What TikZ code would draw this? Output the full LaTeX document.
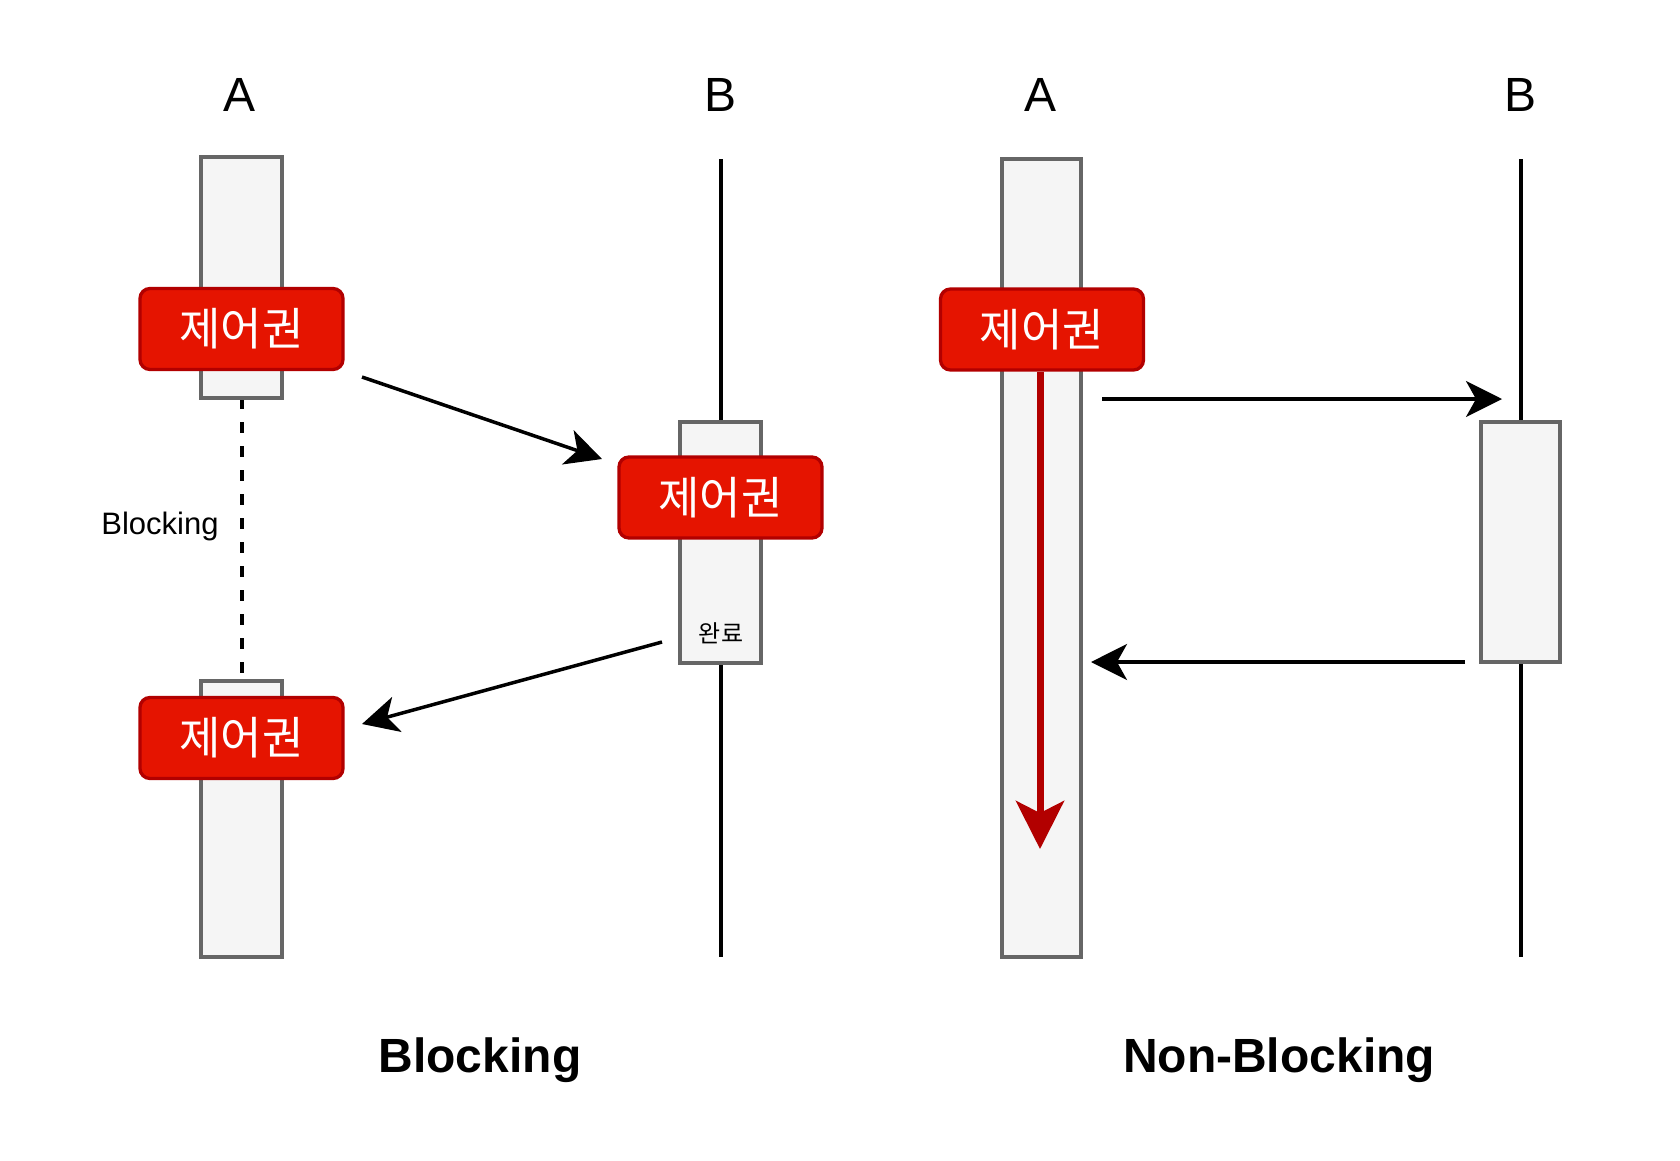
\documentclass[tikz,border=0pt]{standalone}
\usepackage{fontspec}
\setmainfont{Liberation Sans}
\newfontfamily\krfont{Noto Sans CJK KR}
\usetikzlibrary{arrows.meta}
\definecolor{boxfill}{HTML}{F5F5F5}
\definecolor{boxdraw}{HTML}{666666}
\definecolor{redfill}{HTML}{E51400}
\definecolor{reddraw}{HTML}{B20000}
\tikzset{
  bar/.style={draw=boxdraw, fill=boxfill, line width=3.3pt},
  ctrl/.style={draw=reddraw, fill=redfill, line width=3.3pt, rounded corners=10pt,
    minimum width=203pt, minimum height=81pt, inner sep=0pt, text=white,
    font=\krfont\fontsize{45}{50}\selectfont},
  life/.style={line width=3.5pt, black},
  flow/.style={line width=3.5pt, black, -{Stealth[length=36pt, width=36pt, inset=10pt]}},
  redflow/.style={line width=7pt, reddraw, -{Stealth[length=48pt, width=48pt, inset=12pt]}},
  head/.style={font=\fontsize{48}{56}\selectfont},
  title/.style={font=\bfseries\fontsize{48}{56}\selectfont},
}
\begin{document}
\begin{tikzpicture}[x=1pt,y=-1pt]
\useasboundingbox (0,0) rectangle (1680,1160);
% headers
\node[head] (hA1) at (240,95) {A};
\node[head] (hB1) at (720,95) {B};
\node[head] (hA2) at (1040,95) {A};
\node[head] (hB2) at (1520,95) {B};
% lifelines
\coordinate (b1top) at (721,159);
\coordinate (b1bot) at (721,957);
\draw[life] (b1top) -- (b1bot);
\coordinate (b2top) at (1521,159);
\coordinate (b2bot) at (1521,957);
\draw[life] (b2top) -- (b2bot);
% dashed blocking line
\coordinate (d1) at (242,398);
\coordinate (d2) at (242,681);
\draw[line width=3.5pt, dash pattern=on 11pt off 13pt] (d1) -- (d2);
\node[font=\fontsize{31}{36}\selectfont] (blk) at (160,526) {Blocking};
% bars
\draw[bar] (201,157) rectangle (282,398);
\draw[bar] (201,681) rectangle (282,957);
\draw[bar] (680,422) rectangle (761,663);
\draw[bar] (1002,159) rectangle (1081,957);
\draw[bar] (1481,422) rectangle (1560,662);
\node[font=\krfont\fontsize{24}{28}\selectfont] (done) at (721,633) {완료};
% control boxes
\node[ctrl] (c1) at (241.5,329) {제어권};
\node[ctrl] (c2) at (720.5,497.5) {제어권};
\node[ctrl] (c3) at (241.5,738) {제어권};
\node[ctrl] (c4) at (1042,329.5) {제어권};
% arrows
\coordinate (a1s) at (362,377);
\coordinate (a1e) at (602,459);
\draw[flow] (a1s) -- (a1e);
\coordinate (a2s) at (662,642);
\coordinate (a2e) at (362,724);
\draw[flow] (a2s) -- (a2e);
\coordinate (a3s) at (1102,399);
\coordinate (a3e) at (1502,399);
\draw[flow] (a3s) -- (a3e);
\coordinate (a4s) at (1465,662);
\coordinate (a4e) at (1091,662);
\draw[flow] (a4s) -- (a4e);
\coordinate (rend) at (1040,849);
\draw[redflow] (c4.south -| rend) -- (rend);
% titles
\node[title] (t1) at (480,1060) {Blocking};
\node[title] (t2) at (1279,1060) {Non-Blocking};
\end{tikzpicture}
\end{document}
